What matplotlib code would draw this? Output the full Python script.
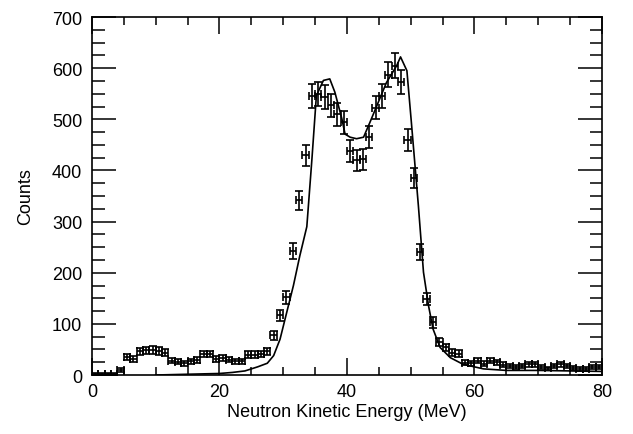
#! /usr/bin/env python3

import matplotlib

matplotlib.use("Agg")
import matplotlib.pyplot as plt
from matplotlib.ticker import MultipleLocator

# measured spectrum, 1 MeV bins
energy = [i + 0.5 for i in range(80)]
counts = [
    2, 2, 2, 2, 10, 36, 31, 46, 48, 49,
    47, 44, 28, 26, 23, 27, 29, 41, 41, 31,
    33, 30, 27, 27, 40, 40, 41, 46, 78, 117,
    152, 243, 342, 430, 546, 550, 543, 527, 510, 494,
    438, 420, 422, 465, 523, 545, 587, 605, 573, 460,
    385, 240, 149, 103, 64, 54, 44, 42, 24, 23,
    28, 22, 28, 25, 20, 18, 15, 18, 21, 21,
    15, 13, 18, 21, 18, 14, 12, 12, 15, 15,
]
errors = [
    1.4, 1.4, 1.4, 1.4, 3.2, 6.0, 5.6, 6.8, 6.9, 7.0,
    6.9, 6.6, 5.3, 5.1, 4.8, 5.2, 5.4, 6.4, 6.4, 5.6,
    5.7, 5.5, 5.2, 5.2, 6.3, 6.3, 6.4, 6.8, 8.8, 10.8,
    12.3, 15.6, 18.5, 20.7, 23.4, 23.5, 23.3, 23.0, 22.6, 22.2,
    20.9, 20.5, 20.5, 21.6, 22.9, 23.3, 24.2, 24.6, 23.9, 21.4,
    19.6, 15.5, 12.2, 10.1, 8.0, 7.3, 6.6, 6.5, 4.9, 4.8,
    5.3, 4.7, 5.3, 5.0, 4.5, 4.2, 3.9, 4.2, 4.6, 4.6,
    3.9, 3.6, 4.2, 4.6, 4.2, 3.7, 3.5, 3.5, 3.9, 3.9,
]

# simulated spectrum
sim_energy = [
    10, 20, 22, 24, 26, 27.5, 28.5, 29.5, 30.3, 31, 31.6, 32.6, 33.7,
    34.5, 35.2, 36.3, 37.3, 38.1, 39.2, 39.7, 40.5, 41.5, 42.6, 43.6,
    44.9, 46.2, 47.8, 48.4, 49.4, 50.1, 51.2, 52, 52.8, 53.5, 54.6,
    56.2, 58.2, 61.4, 65, 70, 75, 80,
]
sim_counts = [
    0, 3, 5, 8, 16, 23, 38, 70, 110, 145, 175, 233, 290,
    422, 546, 576, 579, 553, 501, 471, 465, 462, 465, 494,
    533, 572, 605, 622, 595, 494, 331, 201, 135, 90, 54,
    34, 21, 12, 9, 9, 8, 7,
]


def main():
    plt.rcParams["font.family"] = ["Liberation Sans", "DejaVu Sans"]
    plt.rcParams["font.size"] = 13

    fig = plt.figure(figsize=(6.33, 4.35), dpi=100)
    ax = fig.add_axes([0.1453, 0.1356, 0.8057, 0.823])

    ax.errorbar(
        energy,
        counts,
        yerr=errors,
        xerr=0.5,
        fmt="none",
        ecolor="black",
        elinewidth=1.2,
        capsize=3,
        capthick=1.2,
    )
    ax.plot(sim_energy, sim_counts, color="black", lw=1.2)

    ax.set_xlim(0, 80)
    ax.set_ylim(0, 700)
    ax.xaxis.set_major_locator(MultipleLocator(20))
    ax.xaxis.set_minor_locator(MultipleLocator(5))
    ax.yaxis.set_major_locator(MultipleLocator(100))
    ax.yaxis.set_minor_locator(MultipleLocator(25))

    ax.tick_params(which="both", direction="in", top=True, right=True, width=1.1)
    ax.tick_params(axis="x", which="major", length=12.5, pad=6)
    ax.tick_params(axis="x", which="minor", length=6)
    ax.tick_params(axis="y", which="major", length=17.5, pad=7)
    ax.tick_params(axis="y", which="minor", length=9)
    for s in ax.spines.values():
        s.set_linewidth(1.2)

    ax.set_xlabel("Neutron Kinetic Energy (MeV)", labelpad=2)
    ax.set_ylabel("Counts", labelpad=13)

    fig.savefig("out.png", dpi=100)


if __name__ == "__main__":
    main()
